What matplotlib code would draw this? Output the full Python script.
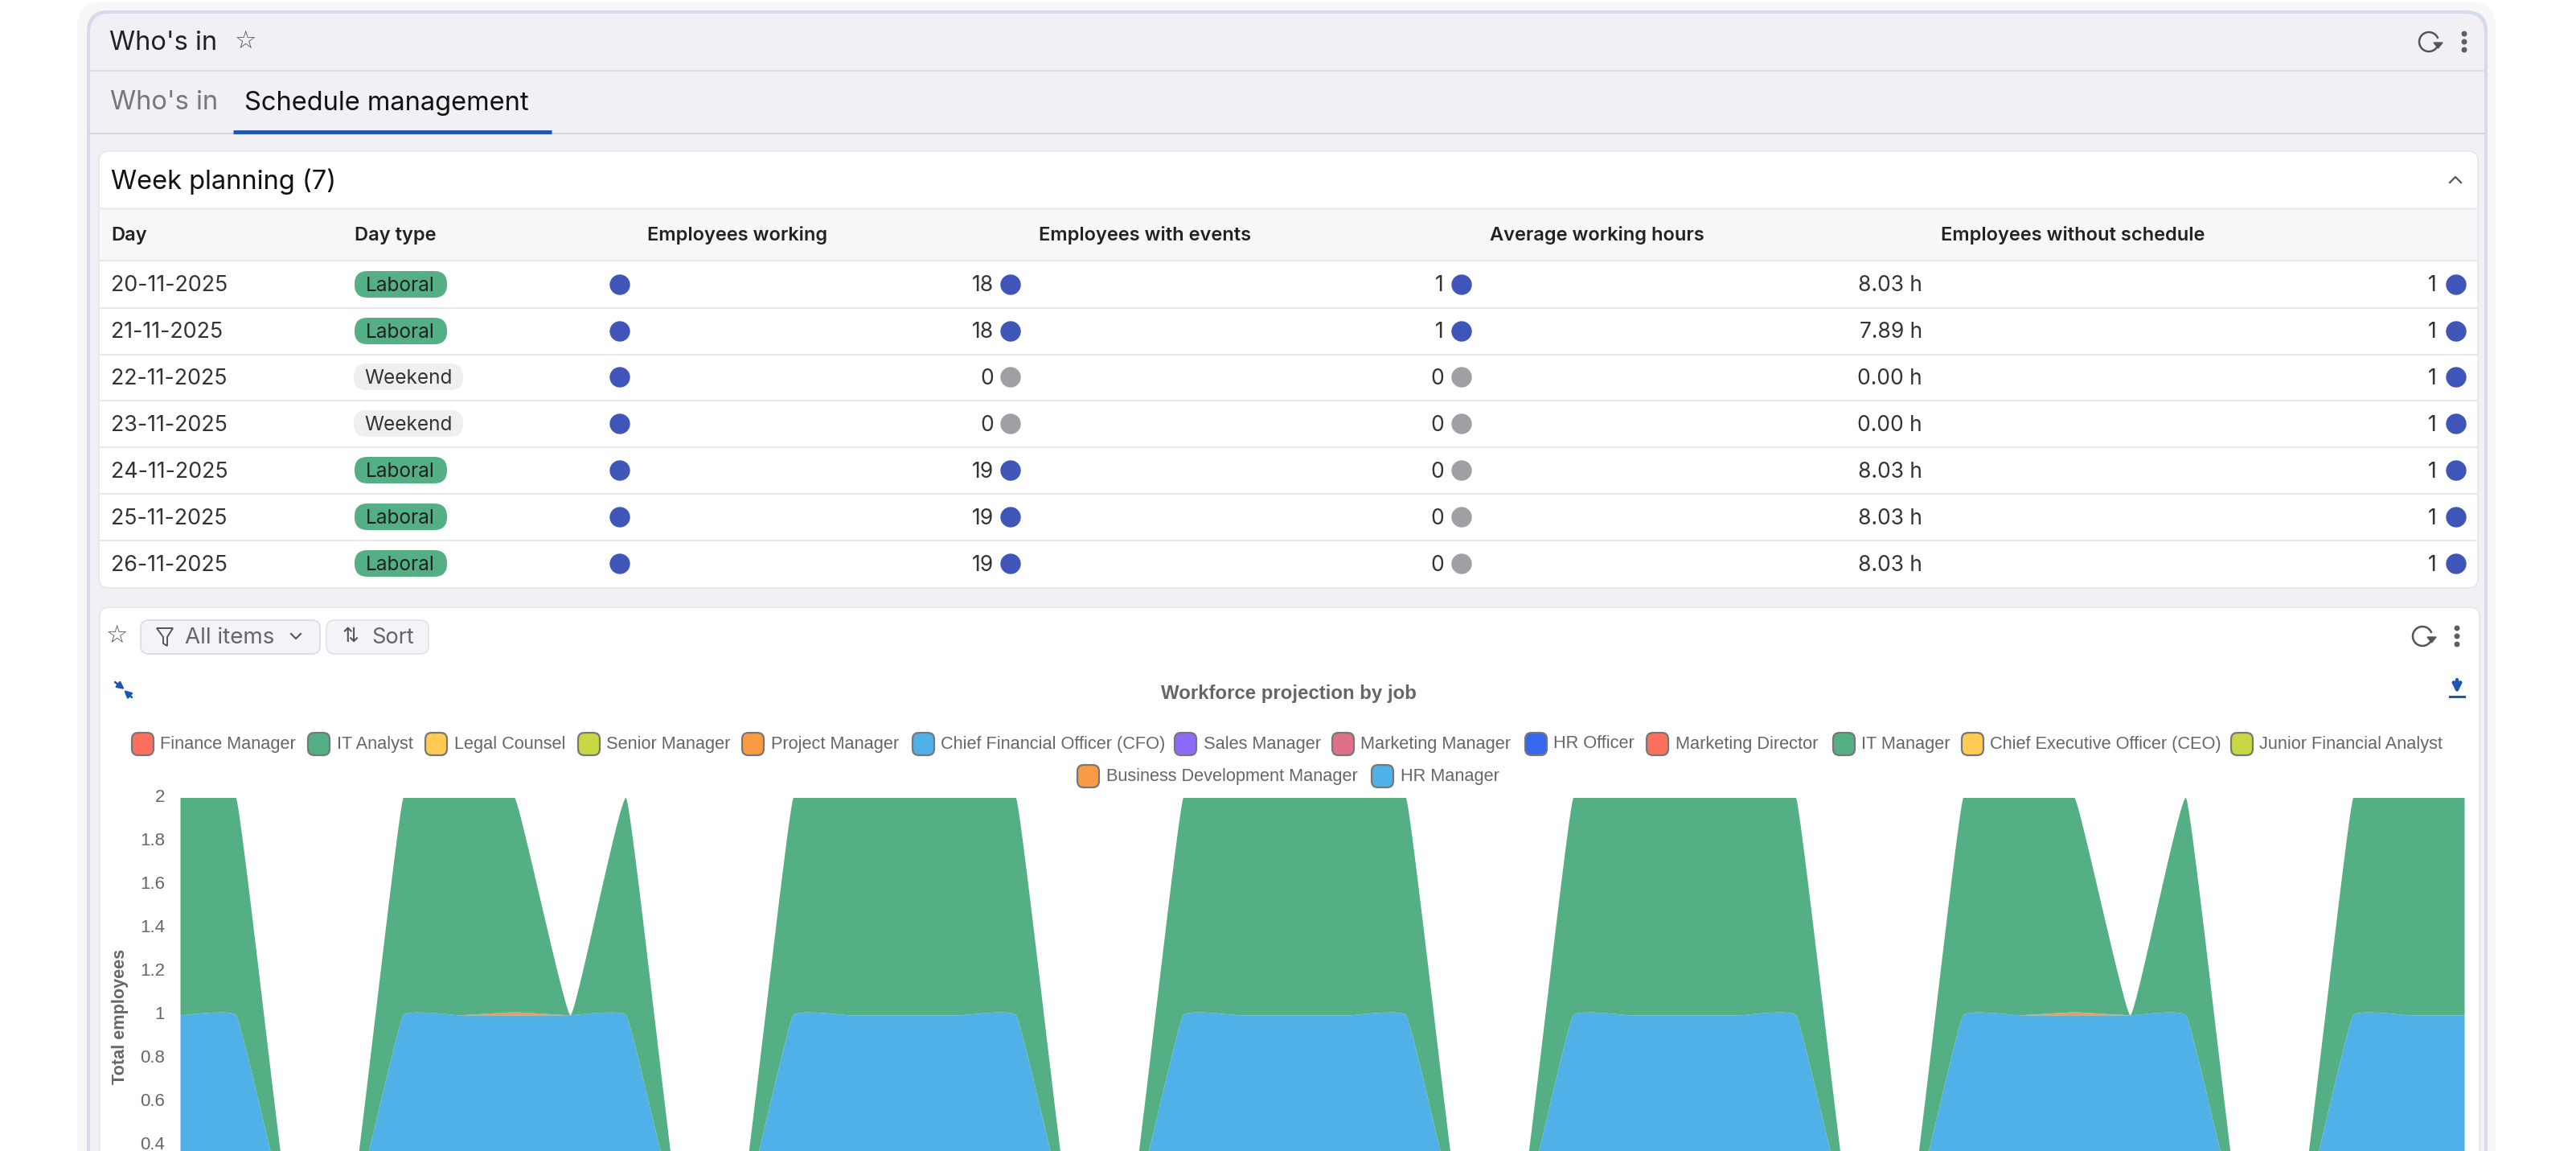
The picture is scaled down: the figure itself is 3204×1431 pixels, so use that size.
import numpy as np
import matplotlib
matplotlib.use('Agg')
import matplotlib.pyplot as plt
from matplotlib.patches import FancyBboxPatch, Ellipse, Polygon, Arc
from matplotlib.transforms import ScaledTranslation

# Table values
days = ['20-11-2025', '21-11-2025', '22-11-2025', '23-11-2025', '24-11-2025', '25-11-2025', '26-11-2025']
day_types = ['Laboral', 'Laboral', 'Weekend', 'Weekend', 'Laboral', 'Laboral', 'Laboral']
working = [18, 18, 0, 0, 19, 19, 19]
with_events = [1, 1, 0, 0, 0, 0, 0]
avg_hours = [8.03, 7.89, 0.00, 0.00, 8.03, 8.03, 8.03]
no_schedule = [1, 1, 1, 1, 1, 1, 1]
table_headers = ['Day', 'Day type', 'Employees working', 'Employees with events',
                 'Average working hours', 'Employees without schedule']

# Chart values
legend_names = ['Finance Manager', 'IT Analyst', 'Legal Counsel', 'Senior Manager', 'Project Manager',
                'Chief Financial Officer (CFO)', 'Sales Manager', 'Marketing Manager', 'HR Officer',
                'Marketing Director', 'IT Manager', 'Chief Executive Officer (CEO)', 'Junior Financial Analyst',
                'Business Development Manager', 'HR Manager']
legend_colors = ['#FF6F5C', '#54B084', '#FFCB52', '#C8D744', '#F99A45', '#50B0E8', '#8D6BFA', '#DE7187',
                 '#3568EE', '#FF6F5C', '#54B084', '#FFCB52', '#C8D744', '#F99A45', '#50B0E8']
hr_manager = [1, 1, 0, 0, 1, 1, 1, 1, 1, 0, 0, 1, 1, 1, 1, 1, 0, 0, 1, 1, 1,
              1, 1, 0, 0, 1, 1, 1, 1, 1, 0, 0, 1, 1, 1, 1, 1, 0, 0, 1, 1, 1]
project_manager = [0, 0, 0, 0, 0, 0, 0.014, 0, 0, 0, 0, 0, 0, 0, 0, 0, 0, 0, 0, 0, 0,
                   0, 0, 0, 0, 0, 0, 0, 0, 0, 0, 0, 0, 0, 0.014, 0, 0, 0, 0, 0, 0, 0]
it_analyst = [1, 1, 0, 0, 1, 1, 0.986, 0, 1, 0, 0, 1, 1, 1, 1, 1, 0, 0, 1, 1, 1,
              1, 1, 0, 0, 1, 1, 1, 1, 1, 0, 0, 1, 1, 0.986, 0, 1, 0, 0, 1, 1, 1]
y_ticks = [0.4, 0.6, 0.8, 1, 1.2, 1.4, 1.6, 1.8, 2]
y_tick_labels = ['0.4', '0.6', '0.8', '1', '1.2', '1.4', '1.6', '1.8', '2']

W, H = 3204, 1431
UI = 'Inter'
CH = 'Liberation Sans'
BLUE_DOT = '#3F55B8'
GRAY_DOT = '#A09FA3'
GREEN = '#54B084'
SKY = '#50B0E8'
ORANGE = '#F99A45'
LINK = '#1F55B0'


def rbox(ax, x0, y0, x1, y1, r, fc, ec='none', lw=0, z=1, ls='-'):
    p = FancyBboxPatch((x0 + r, y0 + r), x1 - x0 - 2 * r, y1 - y0 - 2 * r,
                       boxstyle=f'round,pad={r},rounding_size={r}', fc=fc, ec=ec, lw=lw, zorder=z, ls=ls)
    ax.add_patch(p)


def refresh_icon(ax, x, y, z=4):
    ax.add_patch(Arc((x, y), 24, 24, theta1=30, theta2=340, color='#555555', lw=1.8, zorder=z))
    ax.add_patch(Polygon([[x + 6, y + 1], [x + 17, y + 1], [x + 11.5, y + 8]], color='#555555', zorder=z))


def menu_dots(ax, x, y, z=4):
    for dy in (-10, 0, 10):
        ax.add_patch(Ellipse((x, y + dy), 5.5, 5.5, color='#5F5F5F', zorder=z))


def smooth(values, a=0.1, s=0.03, n=24):
    # bezier smoothing between the points, like the area chart does
    y = np.asarray(values, dtype=float)
    xs, ys = [], []
    t = np.linspace(0, 1, n)[:, None]
    for i in range(len(y) - 1):
        m0 = (y[i + 1] - y[max(i - 1, 0)]) * s
        m1 = (y[min(i + 2, len(y) - 1)] - y[i]) * s
        p = np.array([[i, y[i]], [i + a, y[i] + m0], [i + 1 - a, y[i + 1] - m1], [i + 1, y[i + 1]]])
        c = (1 - t) ** 3 * p[0] + 3 * (1 - t) ** 2 * t * p[1] + 3 * (1 - t) * t ** 2 * p[2] + t ** 3 * p[3]
        xs.append(c[:, 0])
        ys.append(c[:, 1])
    return np.concatenate(xs), np.concatenate(ys)


fig = plt.figure(figsize=(W / 100, H / 100), dpi=100, facecolor='white')
ui = fig.add_axes([0, 0, 1, 1])
ui.set_xlim(0, W)
ui.set_ylim(H, 0)
ui.axis('off')

# outer frame
rbox(ui, 96, 3, 3104, 1500, 30, '#F7F7F8', z=0)
rbox(ui, 108, 13, 3094, 1500, 26, '#D5DBEC', z=0.5)
rbox(ui, 112, 17, 3090, 1500, 24, '#F2F0F4', z=1)
ui.plot([112, 3090], [88, 88], color='#DEDDE1', lw=1.5, zorder=2)
ui.plot([112, 3090], [166, 166], color='#D6D5DA', lw=1.5, zorder=2)
ui.plot([290, 686], [163.5, 163.5], color=LINK, lw=3.5, zorder=3, solid_capstyle='butt')

ui.text(136, 54, "Who's in", family=UI, fontsize=23.5, color='#222222', va='center')
ui.text(305, 51, '\u2606', family='DejaVu Sans', fontsize=22, color='#555555', va='center', ha='center')
ui.text(137, 128, "Who's in", family=UI, fontsize=23.5, color='#77767A', va='center')
ui.text(304, 128, 'Schedule management', family=UI, fontsize=23.5, color='#111111', va='center')

refresh_icon(ui, 3021, 52)
menu_dots(ui, 3065, 52)

# week planning card
rbox(ui, 123, 188, 3082, 731, 12, 'white', ec='#E6E5EA', lw=1.2, z=2)
ui.fill_between([124, 3081], 260, 324, color='#F7F6F9', zorder=2.1, lw=0)
ui.text(138, 226, 'Week planning (7)', family=UI, fontsize=23.5, color='#111111', va='center', zorder=4)
ui.plot([3047, 3054, 3061], [227, 220, 227], color='#555555', lw=1.6, zorder=4)
ui.plot([123, 3082], [259, 259], color='#ECEBEF', lw=2, zorder=3)

header_x = [138, 441, 805, 1292, 1853, 2414]
for hx, name in zip(header_x, table_headers):
    ui.text(hx, 293, name, family=UI, fontsize=17, color='#222222', va='center', weight='semibold', zorder=4)

row_y = [354, 412, 469, 527, 585, 643, 701]
sep_y = [324, 383, 441, 498, 556, 614, 672]
for sy in sep_y:
    ui.plot([123, 3082], [sy, sy], color='#E8E7EC', lw=1.5, zorder=3)

for i, ry in enumerate(row_y):
    ty = ry + 1.5
    ui.text(138, ty, days[i], family=UI, fontsize=19.3, color='#333333', va='center', zorder=4)
    if day_types[i] == 'Laboral':
        rbox(ui, 441, ry - 17, 556, ry + 16, 16, GREEN, z=3)
        ui.text(498, ty, day_types[i], family=UI, fontsize=17.5, color='#222222', ha='center', va='center', zorder=4)
    else:
        rbox(ui, 440, ry - 17, 576, ry + 16, 16, '#EFEEF1', z=3)
        ui.text(508, ty, day_types[i], family=UI, fontsize=17.5, color='#333333', ha='center', va='center', zorder=4)
    ui.add_patch(Ellipse((771, ry), 24, 24, color=BLUE_DOT, zorder=4))
    ui.text(1236, ty, str(working[i]), family=UI, fontsize=19, color='#333333', ha='right', va='center', zorder=4)
    ui.add_patch(Ellipse((1257, ry), 24, 24, color=BLUE_DOT if working[i] else GRAY_DOT, zorder=4))
    ui.text(1796, ty, str(with_events[i]), family=UI, fontsize=19, color='#333333', ha='right', va='center', zorder=4)
    ui.add_patch(Ellipse((1818, ry), 24, 24, color=BLUE_DOT if with_events[i] else GRAY_DOT, zorder=4))
    ui.text(2391, ty, f'{avg_hours[i]:.2f} h', family=UI, fontsize=19, color='#333333', ha='right', va='center', zorder=4)
    ui.text(3031, ty, str(no_schedule[i]), family=UI, fontsize=19, color='#333333', ha='right', va='center', zorder=4)
    ui.add_patch(Ellipse((3055, ry), 24, 24, color=BLUE_DOT, zorder=4))

# chart card
rbox(ui, 124, 755, 3084, 1500, 12, 'white', ec='#E6E5EA', lw=1.2, z=2)
ui.text(145, 790, '\u2606', family='DejaVu Sans', fontsize=22, color='#555555', va='center', ha='center', zorder=4)
rbox(ui, 175, 771, 398, 813, 10, '#F4F3F7', ec='#DADAE6', lw=1.2, z=3)
ui.text(230, 793, 'All items', family=UI, fontsize=20, color='#666666', va='center', zorder=4)
ui.add_patch(Polygon([[195, 781], [215, 781], [208, 792], [208, 803], [203, 800], [203, 792]],
                     fc='none', ec='#555555', lw=1.4, zorder=4))
ui.plot([362, 368, 374], [788, 794, 788], color='#555555', lw=1.5, zorder=4)
rbox(ui, 406, 771, 533, 813, 10, '#F4F3F7', ec='#E2E2EA', lw=1.2, z=3)
ui.text(462, 793, 'Sort', family=UI, fontsize=19.5, color='#666666', va='center', zorder=4)
ui.text(436, 791, '\u21C5', family='DejaVu Sans', fontsize=18, color='#555555', va='center', ha='center', zorder=4)
refresh_icon(ui, 3013, 791)
menu_dots(ui, 3056, 791)

# small chart toolbar icons
arrow_kw = dict(arrowstyle='-|>', color=LINK, lw=1.8, mutation_scale=13, shrinkA=0, shrinkB=0)
ui.annotate('', xy=(155, 857), xytext=(143, 848), arrowprops=arrow_kw, zorder=4)
ui.annotate('', xy=(154, 858), xytext=(164, 867), arrowprops=arrow_kw, zorder=4)
ui.annotate('', xy=(3056, 862), xytext=(3056, 845),
            arrowprops=dict(arrowstyle='-|>', color=LINK, lw=3, mutation_scale=16, shrinkA=0, shrinkB=0), zorder=4)
ui.plot([3047, 3065], [866, 866], color=LINK, lw=2.2, zorder=4)

ui.text(1603, 863, 'Workforce projection by job', family=CH, weight='bold', fontsize=17.3, color='#666666',
        ha='center', va='center', zorder=4)

# legend
swatch_x = [164, 383, 529, 719, 923, 1135, 1461, 1657, 1897, 2048, 2280, 2440, 2775, 1340, 1706]
label_x = [199, 419, 565, 754, 959, 1170, 1497, 1692, 1932, 2084, 2315, 2475, 2810, 1376, 1742]
for i, name in enumerate(legend_names):
    ly = 925 if i < 13 else 965
    rbox(ui, swatch_x[i], ly - 14, swatch_x[i] + 27, ly + 14, 8, legend_colors[i], ec='#777777', lw=1.6, z=4)
    ui.text(label_x[i], ly, name, family=CH, fontsize=15.65, color='#666666', va='center', zorder=4)

# stacked area chart
left, right, top = 224, 3065, 992
ax = fig.add_axes([left / W, 0, (right - left) / W, (H - top) / H], zorder=5)
ax.patch.set_alpha(0)
base = np.zeros(len(hr_manager))
for series, color in [(hr_manager, SKY), (project_manager, ORANGE), (it_analyst, GREEN)]:
    top_vals = base + np.array(series)
    xs, y_low = smooth(base)
    xs, y_high = smooth(top_vals)
    ax.fill_between(xs, y_low, y_high, color=color, lw=0)
    base = top_vals
ax.set_xlim(0, len(hr_manager) - 1)
ax.set_ylim(0.374, 1.998)
ax.set_xticks([])
ax.set_yticks(y_ticks[:-1] + [1.998])
ax.set_yticklabels(y_tick_labels, family=CH, fontsize=16, color='#666666')
ax.tick_params(axis='y', length=0, pad=13.5)
# lift the labels a bit so 0.4 stays inside the picture
lift = ScaledTranslation(0, 3 / 100, fig.dpi_scale_trans)
for lab in ax.get_yticklabels():
    lab.set_transform(lab.get_transform() + lift)
for sp in ax.spines.values():
    sp.set_visible(False)
ui.text(150, 1264, 'Total employees', family=CH, weight='bold', fontsize=15.6, color='#666666', rotation=90,
        ha='center', va='center', zorder=6)

fig.savefig('out.png', dpi=100)
